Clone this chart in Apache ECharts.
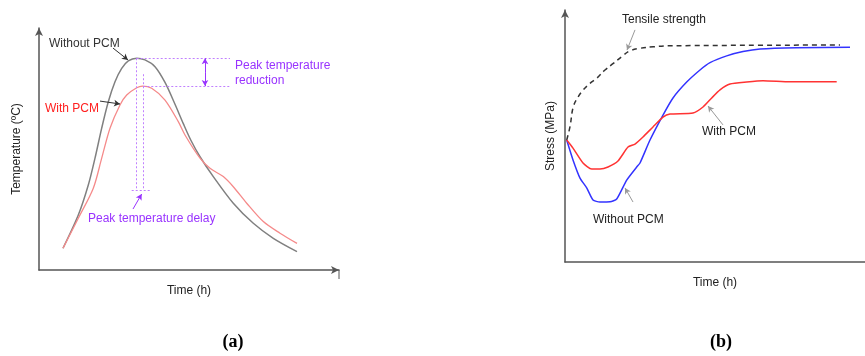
<!DOCTYPE html>
<html>
<head>
<meta charset="utf-8">
<script src="https://cdn.jsdelivr.net/npm/echarts@6/dist/echarts.min.js"></script>
<style>
  html, body { margin: 0; padding: 0; background: #fff; }
  #main { width: 865px; height: 356px; }
</style>
</head>
<body>
<div id="main"></div>
<script>
var chart = echarts.init(document.getElementById('main'));

// (a) temperature vs time, arbitrary units (time 0-30, temperature 0-100)
var tempWithout = [[2.4,9],[3.93,22.7],[4.93,35.1],[5.6,46.2],[6.27,58.6],[6.93,69.5],[7.6,77.8],[8.27,83.3],
    [8.93,86.4],[9.77,87.5],[10.6,86.8],[11.6,84],[12.6,77.5],[13.6,68.5],[14.43,60.5],[15.2,53.5],[16.1,46.8],
    [17.43,38.6],[19.43,27.6],[21.43,19.3],[23.43,13.1],[25.8,7.6]];
var tempWith = [[2.4,9],[3.93,21.4],[5.43,33.8],[6.27,46.2],[7.1,58.6],[8.1,68.2],[8.77,72.3],[9.77,75.3],
    [10.33,76],[11.27,75.1],[12.6,70.2],[13.93,61.3],[14.6,55.8],[16.1,46.2],[17.1,42],[18.43,38.6],
    [19.43,34.4],[20.77,27.6],[22.43,20],[24.1,15.2],[25.8,11]];

// (b) stress vs time
var tensile = [[0.17,48.4],[0.5,53.7],[0.83,61.6],[1.33,65.6],[1.83,68.3],[2.5,70.9],[3.17,72.9],[4,76.2],
    [4.83,78.8],[5.67,81.5],[6.5,83.8],[7.5,84.8],[8.83,85.4],[10.5,85.8],[27.5,86.1]];
var stressWithout = [[0.17,48.4],[0.8,40.5],[1.5,33.3],[2.17,29.4],[2.8,24.6],[3.5,23.8],[4.5,23.9],[5.17,25],
    [6.17,32.5],[7.17,37.7],[7.5,39.3],[8.5,48.4],[9.8,58.3],[10.8,65.1],[12.17,71.4],[13.5,76.2],
    [14.5,79.1],[16.17,81.8],[17.8,83.5],[19.5,84.5],[23.17,85],[28.5,85.2]];
var stressWith = [[0.17,48.4],[0.8,45.2],[1.8,39.3],[2.67,36.9],[3.5,36.9],[4.3,37.7],[5.3,40.1],[6.3,45.6],
    [7,46.8],[7.8,49.6],[8.8,53.6],[9.8,57.5],[10.5,58.7],[12.8,59.1],[13.8,61.5],[14.67,65.1],[15.5,68.3],
    [16.5,70.6],[18.17,71.4],[19.8,71.9],[22.5,71.5],[27.17,71.5]];

// annotation points (a)
var peakWithout = [9.77, 87.5];
var peakWith = [10.43, 76];
var delayY = 33.1;
var reductionX = 16.6;
var guideEndX = 19.1;

var purple = '#9933ff';
var font = '12px "Liberation Sans", Arial, sans-serif';

function axisX(idx, arrow, name) {
    return {
        type: 'value', gridIndex: idx, min: 0, max: 30,
        name: name, nameLocation: 'middle', nameGap: 15,
        nameTextStyle: { color: '#222', fontSize: 12, fontFamily: 'Liberation Sans' },
        axisLine: { show: true, onZero: false, symbol: arrow ? ['none', 'arrow'] : 'none', symbolSize: [6, 8],
            lineStyle: { color: '#555', width: 1.5 } },
        axisTick: { show: false }, axisLabel: { show: false }, splitLine: { show: false }
    };
}
function axisY(idx, name, gap) {
    return {
        type: 'value', gridIndex: idx, min: 0, max: 100,
        name: name, nameLocation: 'middle', nameGap: gap,
        nameTextStyle: { color: '#222', fontSize: 12, fontFamily: 'Liberation Sans' },
        axisLine: { show: true, onZero: false, symbol: ['none', 'arrow'], symbolSize: [6, 8],
            lineStyle: { color: '#555', width: 1.5 } },
        axisTick: { show: false }, axisLabel: { show: false }, splitLine: { show: false }
    };
}

function seg(a, b, style) {
    var first = { coord: a };
    if (style) first.lineStyle = style;
    return [first, { coord: b }];
}

var dotted = { color: '#c080ff', type: [2, 2], width: 1 };
var darkArrow = { color: '#333', width: 1, type: 'solid' };
var purpleArrow = { color: purple, width: 1, type: 'solid' };

option = {
    backgroundColor: '#fff',
    animation: false,
    grid: [
        { left: 39, top: 28, width: 300, height: 242 },
        { left: 565, top: 10, width: 300, height: 252 }
    ],
    xAxis: [axisX(0, true, 'Time (h)'), axisX(1, false, 'Time (h)')],
    yAxis: [axisY(0, 'Temperature (ºC)', 16), axisY(1, 'Stress (MPa)', 8)],
    series: [
        {
            name: 'Without PCM', type: 'line', xAxisIndex: 0, yAxisIndex: 0,
            data: tempWithout, smooth: 0.3, showSymbol: false,
            lineStyle: { color: '#808080', width: 1.5 },
            markLine: {
                silent: true, symbol: 'none', label: { show: false },
                lineStyle: dotted,
                data: [
                    seg(peakWithout, [guideEndX, peakWithout[1]]),
                    seg(peakWith, [guideEndX, peakWith[1]]),
                    seg([peakWithout[0], peakWithout[1]], [peakWithout[0], delayY]),
                    seg([peakWith[0], 80.9], [peakWith[0], delayY]),
                    seg([9.27, delayY], [11.17, delayY])
                ]
            }
        },
        {
            name: 'With PCM', type: 'line', xAxisIndex: 0, yAxisIndex: 0,
            data: tempWith, smooth: 0.3, showSymbol: false,
            lineStyle: { color: '#f58a8a', width: 1.3 },
            markLine: {
                silent: true, symbol: ['none', 'arrow'], symbolSize: [5, 6], label: { show: false },
                data: [
                    seg([7.4, 91.7], [8.9, 86.8], darkArrow),
                    seg([6.1, 69.8], [8.1, 68.6], darkArrow),
                    seg([9.4, 25.2], [10.27, 31.4], purpleArrow),
                    seg([reductionX, 81.75], [reductionX, peakWithout[1]], purpleArrow),
                    seg([reductionX, 81.75], [reductionX, peakWith[1]], purpleArrow)
                ]
            }
        },
        {
            name: 'Tensile strength', type: 'line', xAxisIndex: 1, yAxisIndex: 1,
            data: tensile, smooth: 0.4, showSymbol: false,
            lineStyle: { color: '#333', width: 1.5, type: [5, 4] },
            markLine: {
                silent: true, symbol: ['none', 'arrow'], symbolSize: [5, 6], label: { show: false },
                lineStyle: { color: '#999', width: 1, type: 'solid' },
                data: [
                    seg([7.0, 92.1], [6.2, 84.1]),
                    seg([15.8, 54.4], [14.3, 61.9]),
                    seg([6.8, 23.8], [6.0, 29.4])
                ]
            }
        },
        {
            name: 'Without PCM (b)', type: 'line', xAxisIndex: 1, yAxisIndex: 1,
            data: stressWithout, smooth: 0.2, showSymbol: false,
            lineStyle: { color: '#3333ff', width: 1.5 }
        },
        {
            name: 'With PCM (b)', type: 'line', xAxisIndex: 1, yAxisIndex: 1,
            data: stressWith, smooth: 0.2, showSymbol: false,
            lineStyle: { color: '#ff3333', width: 1.5 }
        }
    ],
    graphic: [
        { type: 'line', shape: { x1: 339, y1: 270, x2: 339, y2: 279 }, style: { stroke: '#555', lineWidth: 1 } },
        { type: 'text', style: { text: 'Without PCM', x: 49, y: 44, fill: '#333', font: font, verticalAlign: 'middle' } },
        { type: 'text', style: { text: 'With PCM', x: 45, y: 109, fill: '#ff2020', font: font, verticalAlign: 'middle' } },
        { type: 'text', style: { text: 'Peak temperature', x: 235, y: 66, fill: purple, font: font, verticalAlign: 'middle' } },
        { type: 'text', style: { text: 'reduction', x: 235, y: 81, fill: purple, font: font, verticalAlign: 'middle' } },
        { type: 'text', style: { text: 'Peak temperature delay', x: 88, y: 219, fill: purple, font: font, verticalAlign: 'middle' } },
        { type: 'text', style: { text: 'Tensile strength', x: 622, y: 20, fill: '#222', font: font, verticalAlign: 'middle' } },
        { type: 'text', style: { text: 'With PCM', x: 702, y: 132, fill: '#222', font: font, verticalAlign: 'middle' } },
        { type: 'text', style: { text: 'Without PCM', x: 593, y: 220, fill: '#222', font: font, verticalAlign: 'middle' } },
        { type: 'text', style: { text: '(a)', x: 233, y: 342, fill: '#000', font: 'bold 18px "Liberation Serif", serif', align: 'center', verticalAlign: 'middle' } },
        { type: 'text', style: { text: '(b)', x: 721, y: 342, fill: '#000', font: 'bold 18px "Liberation Serif", serif', align: 'center', verticalAlign: 'middle' } }
    ]
};
chart.setOption(option);
</script>
</body>
</html>
